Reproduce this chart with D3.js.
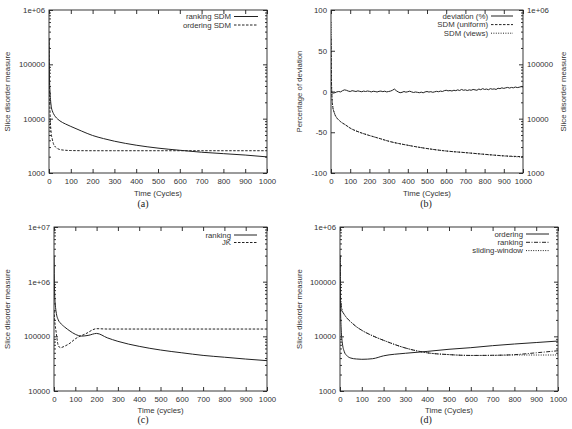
<html>
<style>
    body { margin: 0; background: #fff; }
    text { font-family: "Liberation Sans", Arial, sans-serif; fill: #333; }
    .cap { font-family: "Liberation Serif", "Times New Roman", serif; fill: #222; }
    .tick line { stroke: #333; }
</style>
<body>
<script src="https://d3js.org/d3.v7.min.js"></script>
<script>
// ---- data ----
// (a)
const tA = [0, 2, 5, 10, 15, 20, 30, 40, 50, 75, 100, 150, 200, 250, 300, 400, 500, 600, 700, 800, 900, 1000]
const rankingSDM_A = [300000, 60000, 30000, 17000, 14000, 12500, 10800, 9800, 9100, 8000, 7200, 5900, 4900, 4300, 3850, 3250, 2870, 2620, 2410, 2270, 2140, 1980]
const orderingSDM_A = [300000, 40000, 12000, 5500, 4200, 3500, 3000, 2800, 2700, 2620, 2590, 2575, 2570, 2570, 2570, 2570, 2570, 2570, 2570, 2570, 2570, 2570]

// (b)
const tDev = d3.range(0, 1001, 10)
const deviation = [-1, -2, -1.5, -0.5, 0, -0.5, 1, 2, 1.5, 0.5,
    0, 1, 0.5, 0, 0.8, 0.2, -0.3, 0.5, 0, 0.6,
    0.2, -0.5, 0.3, 0, -0.6, 0.2, 0.5, -0.2, 0.4, -0.5,
    0, 0.5, 1.5, 3, 1, -0.5, -1.5, -1, 0, -0.8,
    -0.3, 0.4, -0.5, -1.2, -0.6, -1, -1.5, -0.8, -1.6, -0.5,
    0, -0.7, -0.2, -1, -0.4, 0.2, -0.3, 0.5, 0, 1,
    1.5, 0.8, 1.2, 0.6, 1.5, 1, 2, 1.2, 2.5, 1.5,
    2, 1.2, 2, 1.5, 2.5, 2, 1.5, 3, 2.2, 3.5,
    2.5, 3, 2.2, 3.5, 2.8, 3.2, 2.5, 4, 3.5, 4.5,
    3.8, 4.5, 5, 4.2, 5, 4.5, 5.5, 4.8, 5.2, 6, 5.5]
const tB = [0, 2, 5, 10, 15, 20, 30, 40, 50, 75, 100, 150, 200, 250, 300, 400, 500, 600, 700, 800, 900, 1000]
const sdmUniform = [300000, 60000, 25000, 15800, 13500, 12000, 10300, 9500, 8800, 7700, 6700, 5600, 4900, 4350, 3850, 3240, 2820, 2540, 2370, 2210, 2070, 2000]
const sdmViews = [600000, 70000, 26000, 16000, 13600, 12100, 10400, 9500, 8800, 7700, 6700, 5600, 4900, 4350, 3850, 3240, 2820, 2540, 2370, 2200, 2060, 1960]

// (c)
const tC1 = [0, 3, 10, 20, 30, 50, 75, 100, 130, 160, 200, 250, 300, 400, 500, 600, 700, 800, 900, 1000]
const rankingC = [3000000, 600000, 280000, 200000, 175000, 148000, 125000, 109000, 101000, 104000, 113000, 94000, 81000, 65600, 56200, 50000, 44800, 41500, 38400, 35900]
const tC2 = [0, 3, 10, 20, 30, 50, 75, 100, 150, 200, 250, 300, 400, 500, 600, 700, 800, 900, 1000]
const jkC = [300000, 200000, 120000, 68000, 62000, 66000, 75000, 90000, 112000, 138000, 136000, 136000, 136000, 136000, 136000, 136000, 136000, 136000, 136000]

// (d)
const tD = [0, 2, 5, 10, 20, 30, 50, 75, 100, 150, 200, 300, 400, 500, 600, 700, 800, 900, 1000]
const orderingD = [300000, 40000, 15000, 8000, 5200, 4500, 4000, 3850, 3800, 3900, 4400, 4900, 5300, 5800, 6200, 6750, 7240, 7700, 8200]
const rankingD = [300000, 60000, 38000, 30000, 25000, 22000, 18300, 15000, 12900, 10200, 8450, 6120, 5000, 4630, 4470, 4500, 4620, 5000, 5450]
const slidingD = [300000, 60000, 38000, 30000, 25000, 22000, 18300, 15000, 12900, 10200, 8450, 6120, 5000, 4630, 4470, 4480, 4560, 4550, 4560]

const xTicks = d3.range(0, 1001, 100)

// ---- drawing ----
const W = 572, H = 429, FS = 7.8
const svg = d3.select("body").append("svg")
    .attr("width", W).attr("height", H)
    .style("font-size", FS + "px")

const styles = {
    solid: {dash: null, w: 1},
    dashed: {dash: "2.5,1.5", w: 1},
    dotted: {dash: "1,1.4", w: 1},
    dashdot: {dash: "4,1.5,1,1.5", w: 1}
}

const logFmt = v => v >= 1e6 ? `1e+${String(Math.round(Math.log10(v))).padStart(2, "0")}` : String(v)

function minorLog([lo, hi]) {
    let out = []
    for (let p = Math.log10(lo); p < Math.log10(hi); p++)
        for (let k = 2; k <= 9; k++) out.push(k * Math.pow(10, p))
    return out
}

function panel(cfg) {
    const {x0, x1, y0, y1} = cfg.box
    const g = svg.append("g")
    const x = d3.scaleLinear().domain([0, 1000]).range([x0, x1])
    const y = cfg.yLog
        ? d3.scaleLog().domain(cfg.yDomain).range([y1, y0])
        : d3.scaleLinear().domain(cfg.yDomain).range([y1, y0])

    const clipId = "clip" + cfg.name
    g.append("clipPath").attr("id", clipId).append("rect")
        .attr("x", x0).attr("y", y0).attr("width", x1 - x0).attr("height", y1 - y0)

    // x axis bottom + mirrored top
    g.append("g").attr("transform", `translate(0,${y1})`)
        .call(d3.axisBottom(x).tickValues(xTicks).tickSize(-4).tickPadding(5.5).tickFormat(v => String(v)))
    g.append("g").attr("transform", `translate(0,${y0})`)
        .call(d3.axisTop(x).tickValues(xTicks).tickSize(-4).tickFormat(""))

    // left y axis
    const yl = d3.axisLeft(y).tickValues(cfg.yTicks).tickSize(-4).tickPadding(cfg.leftPad)
        .tickFormat(cfg.yLog ? logFmt : v => String(v))
    g.append("g").attr("transform", `translate(${x0},0)`).call(yl)
    if (cfg.yLog) {
        g.append("g").attr("transform", `translate(${x0},0)`)
            .call(d3.axisLeft(y).tickValues(minorLog(cfg.yDomain)).tickSize(-2).tickFormat(""))
    }

    // right y axis (mirror, or second scale)
    let y2 = y
    if (cfg.y2Domain) {
        y2 = d3.scaleLog().domain(cfg.y2Domain).range([y1, y0])
        g.append("g").attr("transform", `translate(${x1},0)`)
            .call(d3.axisRight(y2).tickValues(cfg.y2Ticks).tickSize(-4).tickPadding(4).tickFormat(logFmt))
        g.append("g").attr("transform", `translate(${x1},0)`)
            .call(d3.axisRight(y2).tickValues(minorLog(cfg.y2Domain)).tickSize(-2).tickFormat(""))
    } else {
        g.append("g").attr("transform", `translate(${x1},0)`)
            .call(d3.axisRight(y).tickValues(cfg.yTicks).tickSize(-4).tickFormat(""))
        if (cfg.yLog) {
            g.append("g").attr("transform", `translate(${x1},0)`)
                .call(d3.axisRight(y).tickValues(minorLog(cfg.yDomain)).tickSize(-2).tickFormat(""))
        }
    }

    g.selectAll(".domain").remove()
    g.selectAll(".tick text").attr("fill", "#333").style("font-size", FS + "px")
        .style("font-family", '"Liberation Sans", Arial, sans-serif')

    g.append("rect").attr("x", x0).attr("y", y0)
        .attr("width", x1 - x0).attr("height", y1 - y0)
        .attr("fill", "none").attr("stroke", "#222").attr("stroke-width", 0.9)

    // series
    const series = g.append("g").attr("clip-path", `url(#${clipId})`)
    cfg.series.forEach((s, i) => {
        const sc = s.axis2 ? y2 : y
        const line = d3.line().x(d => x(d[0])).y(d => sc(d[1]))
            .curve(s.raw ? d3.curveLinear : d3.curveMonotoneX)
        const st = styles[s.style]
        series.append("path")
            .datum(d3.zip(s.t, s.v))
            .attr("d", line)
            .attr("fill", "none").attr("stroke", "#222")
            .attr("stroke-width", st.w)
            .attr("stroke-dasharray", st.dash)

        // legend
        const ly = cfg.legend.y + i * cfg.legend.dy
        g.append("text").attr("x", cfg.legend.x).attr("y", ly).attr("dy", "0.33em")
            .attr("text-anchor", "end").text(s.label)
        g.append("line")
            .attr("x1", cfg.legend.x + 3).attr("x2", cfg.legend.x + 3 + cfg.legend.len)
            .attr("y1", ly).attr("y2", ly)
            .attr("stroke", "#222").attr("stroke-width", st.w)
            .attr("stroke-dasharray", st.dash)
    })

    // labels
    const cx = (x0 + x1) / 2
    g.append("text").attr("x", cx).attr("y", cfg.xLabelY).attr("text-anchor", "middle").text(cfg.xLabel)
    g.append("text").attr("class", "cap").attr("x", cfg.capX).attr("y", cfg.capY)
        .attr("text-anchor", "middle").style("font-size", "10px").text(cfg.cap)
    g.append("text").attr("transform", `translate(${cfg.yLabelX},${(y0 + y1) / 2}) rotate(-90)`)
        .attr("text-anchor", "middle").text(cfg.yLabel)
    if (cfg.y2Label) {
        g.append("text").attr("transform", `translate(${cfg.y2LabelX},${(y0 + y1) / 2}) rotate(-90)`)
            .attr("text-anchor", "middle").text(cfg.y2Label)
    }
}

panel({
    name: "a", box: {x0: 49, x1: 267, y0: 10, y1: 173},
    yLog: true, yDomain: [1000, 1e6], yTicks: [1000, 10000, 100000, 1e6], leftPad: 4,
    series: [
        {t: tA, v: rankingSDM_A, style: "solid", label: "ranking SDM"},
        {t: tA, v: orderingSDM_A, style: "dashed", label: "ordering SDM"}
    ],
    legend: {x: 231, y: 16.5, dy: 8.5, len: 24},
    xLabel: "Time (Cycles)", xLabelY: 195.5, cap: "(a)", capX: 143, capY: 207,
    yLabel: "Slice disorder measure", yLabelX: 9.5
})

panel({
    name: "b", box: {x0: 331, x1: 523, y0: 10, y1: 173},
    yLog: false, yDomain: [-100, 100], yTicks: [-100, -50, 0, 50, 100], leftPad: 4,
    y2Domain: [1000, 1e6], y2Ticks: [1000, 10000, 100000, 1e6],
    series: [
        {t: tDev, v: deviation, style: "solid", label: "deviation (%)", raw: true},
        {t: tB, v: sdmUniform, style: "dashed", label: "SDM (uniform)", axis2: true},
        {t: tB, v: sdmViews, style: "dotted", label: "SDM (views)", axis2: true}
    ],
    legend: {x: 488, y: 16, dy: 8.6, len: 22},
    xLabel: "Time (Cycles)", xLabelY: 195.5, cap: "(b)", capX: 426, capY: 207,
    yLabel: "Percentage of deviation", yLabelX: 302,
    y2Label: "Slice disorder measure", y2LabelX: 565.5
})

panel({
    name: "c", box: {x0: 54, x1: 267, y0: 227, y1: 391},
    yLog: true, yDomain: [10000, 1e7], yTicks: [10000, 100000, 1e6, 1e7], leftPad: 4,
    series: [
        {t: tC1, v: rankingC, style: "solid", label: "ranking"},
        {t: tC2, v: jkC, style: "dashed", label: "JK"}
    ],
    legend: {x: 231, y: 235, dy: 7.5, len: 23},
    xLabel: "Time (cycles)", xLabelY: 412.5, cap: "(c)", capX: 143, capY: 423,
    yLabel: "Slice disorder measure", yLabelX: 9.5
})

panel({
    name: "d", box: {x0: 340, x1: 558, y0: 227, y1: 391},
    yLog: true, yDomain: [1000, 1e6], yTicks: [1000, 10000, 100000, 1e6], leftPad: 4,
    series: [
        {t: tD, v: orderingD, style: "solid", label: "ordering"},
        {t: tD, v: rankingD, style: "dashdot", label: "ranking"},
        {t: tD, v: slidingD, style: "dotted", label: "sliding-window"}
    ],
    legend: {x: 523, y: 234, dy: 8.3, len: 23},
    xLabel: "Time (Cycles)", xLabelY: 412.5, cap: "(d)", capX: 426, capY: 423,
    yLabel: "Slice disorder measure", yLabelX: 301.5
})
</script>
</body>
</html>
